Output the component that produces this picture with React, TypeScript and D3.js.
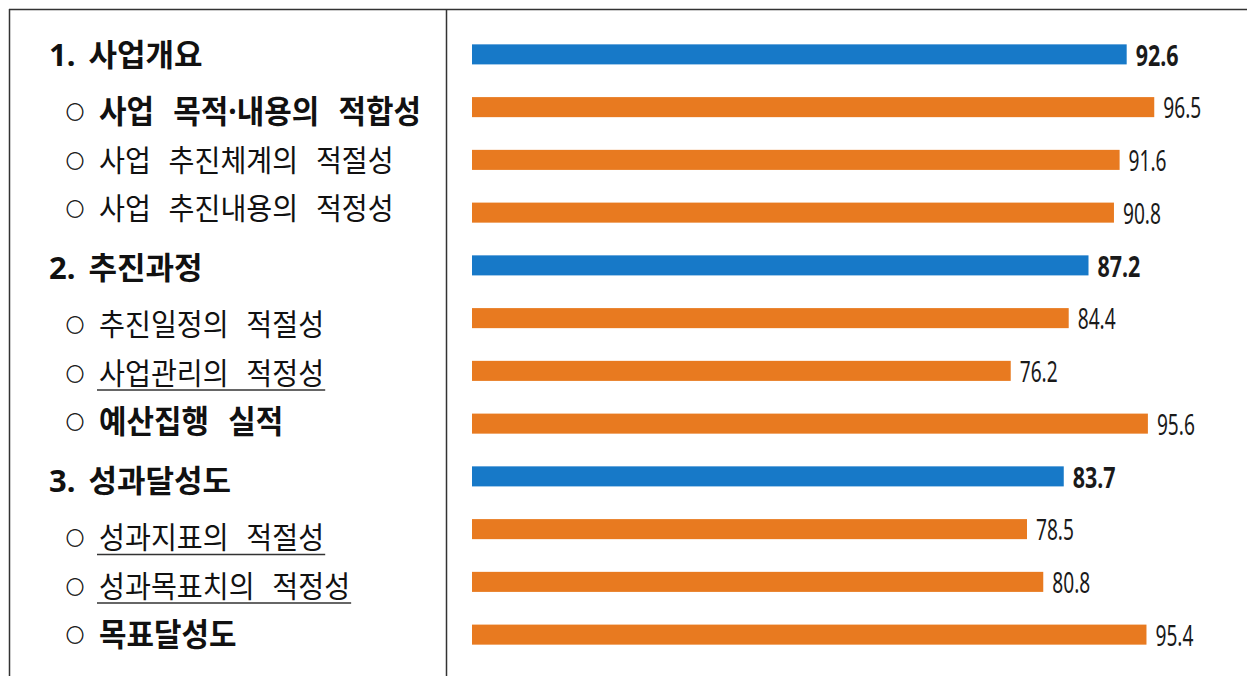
import React, { useEffect, useRef } from "react";
import * as d3 from "d3";

const rowLabels = [
  "1. 사업개요",
  "사업 목적·내용의 적합성",
  "사업 추진체계의 적절성",
  "사업 추진내용의 적정성",
  "2. 추진과정",
  "추진일정의 적절성",
  "사업관리의 적정성",
  "예산집행 실적",
  "3. 성과달성도",
  "성과지표의 적절성",
  "성과목표치의 적정성",
  "목표달성도",
];
const rowTypes = ["section", "item", "item", "item", "section", "item", "item", "item", "section", "item", "item", "item"];
const boldItems = ["사업 목적·내용의 적합성", "예산집행 실적", "목표달성도"];
const underlinedItems = ["사업관리의 적정성", "성과지표의 적절성", "성과목표치의 적정성"];
const scores = [92.6, 96.5, 91.6, 90.8, 87.2, 84.4, 76.2, 95.6, 83.7, 78.5, 80.8, 95.4];

const W = 1247;
const H = 676;
const BLUE = "#1779c8";
const ORANGE = "#e87a20";
const KFONT = "'Noto Sans', 'Noto Sans CJK KR', sans-serif";

export default function App() {
  const ref = useRef<SVGSVGElement | null>(null);

  useEffect(() => {
    const svg = d3.select(ref.current);
    svg.selectAll("*").remove();

    // frame lines
    const frame = svg.append("g").attr("stroke", "#333").attr("stroke-width", 1.5);
    frame.append("line").attr("x1", 9).attr("x2", W).attr("y1", 9.5).attr("y2", 9.5);
    frame.append("line").attr("x1", 9.5).attr("x2", 9.5).attr("y1", 9).attr("y2", H);
    frame.append("line").attr("x1", 446.5).attr("x2", 446.5).attr("y1", 9).attr("y2", H);

    // bars
    const idx = rowLabels.map((_, i) => String(i));
    const y = d3.scaleBand().domain(idx).range([28, 661]).paddingInner(0.62).paddingOuter(0.31);
    const x = d3.scaleLinear().domain([0, 100]).range([472, 1179]);

    const bars = svg.append("g");
    scores.forEach((v, i) => {
      const isSec = rowTypes[i] === "section";
      bars
        .append("rect")
        .attr("x", x(0))
        .attr("y", y(String(i))!)
        .attr("width", x(v) - x(0))
        .attr("height", y.bandwidth())
        .attr("fill", isSec ? BLUE : ORANGE);
      const cy = y(String(i))! + y.bandwidth() / 2;
      bars
        .append("text")
        .attr("transform", `translate(${x(v) + 9},${cy}) scale(${isSec ? 0.74 : 0.66},1)`)
        .attr("dominant-baseline", "central")
        .attr("font-family", "'Noto Sans', sans-serif")
        .attr("font-size", 29)
        .attr("font-weight", isSec ? 700 : 400)
        .attr("fill", "#1a1a1a")
        .text(d3.format(".1f")(v));
    });

    // left labels
    const labels = svg.append("g");
    let sec = -1;
    let item = 0;
    rowLabels.forEach((lab, i) => {
      let cy: number;
      if (rowTypes[i] === "section") {
        sec += 1;
        item = 0;
        cy = 54 + 213 * sec;
        labels
          .append("text")
          .attr("transform", `translate(49,${cy})`)
          .attr("dominant-baseline", "central")
          .attr("font-family", KFONT)
          .attr("font-size", 31)
          .attr("font-weight", 700)
          .style("word-spacing", "5px")
          .attr("fill", "#111")
          .text(lab);
      } else {
        cy = 54 + 213 * sec + 57 + 48.5 * item;
        item += 1;
        const bold = boldItems.includes(lab);
        const sx = bold ? 0.95 : 0.94;
        labels
          .append("text")
          .attr("x", 75)
          .attr("y", cy)
          .attr("text-anchor", "middle")
          .attr("dominant-baseline", "central")
          .attr("font-family", "'Noto Sans CJK KR', sans-serif")
          .attr("font-size", 18)
          .attr("fill", "#111")
          .attr("stroke", "#111")
          .attr("stroke-width", 0.5)
          .text("○");
        const t = labels
          .append("text")
          .attr("transform", `translate(99,${cy}) scale(${sx},1)`)
          .attr("dominant-baseline", "central")
          .attr("font-family", KFONT)
          .attr("font-size", bold ? 31.5 : 30)
          .attr("font-weight", bold ? 700 : 400)
          .style("word-spacing", bold ? "12px" : "11px")
          .attr("fill", "#111")
          .text(lab);
        if (underlinedItems.includes(lab)) {
          const node = t.node() as SVGTextElement;
          const bb = node.getBBox();
          labels
            .append("line")
            .attr("x1", 97)
            .attr("x2", 99 + (bb.x + bb.width) * sx + 1)
            .attr("y1", cy + 17.5)
            .attr("y2", cy + 17.5)
            .attr("stroke", "#333")
            .attr("stroke-width", 1.5);
        }
      }
    });
  }, []);

  return (
    <div style={{ position: "absolute", left: 0, top: 0, width: W, height: H, background: "#fff" }}>
      <svg ref={ref} width={W} height={H} style={{ display: "block" }} />
    </div>
  );
}
